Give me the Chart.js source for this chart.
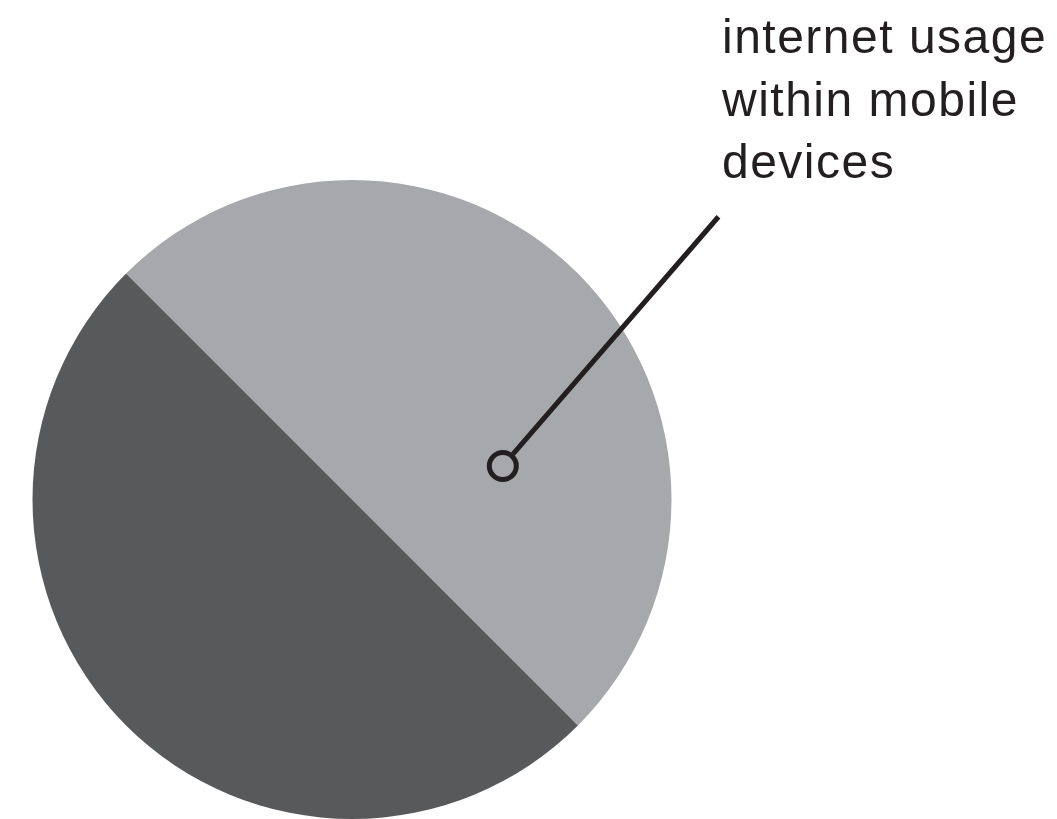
<!DOCTYPE html>
<html>
<head>
<meta charset="utf-8">
<script src="https://cdn.jsdelivr.net/npm/chart.js@4.4.0/dist/chart.umd.min.js"></script>
<style>
  html, body { margin: 0; padding: 0; background: #ffffff; overflow: hidden; }
  #wrap { width: 1057px; height: 819px; }
</style>
</head>
<body>
<div id="wrap"><canvas id="pie-chartcanvas"></canvas></div>
<script>
// data
var categories = ["internet usage within mobile devices", "other"];
var shares = [50, 50];
var sliceColors = ["#a7a8ab", "#58595b"];
var calloutLines = ["internet usage", "within mobile", "devices"];

// callout: leader line from a small ring inside the first slice to the label
var callout = {
  id: "callout",
  afterDatasetsDraw: function(chart) {
    var arc = chart.getDatasetMeta(0).data[0];
    if (!arc) return;
    var r = arc.outerRadius;
    var cx = arc.x, cy = arc.y;
    var ctx = chart.ctx;

    var mx = cx + 0.472 * r, my = cy - 0.105 * r;   // ring
    var ex = cx + 1.147 * r, ey = cy - 0.885 * r;   // line end
    var ringR = 13.5;

    ctx.save();
    ctx.strokeStyle = "#231f20";
    ctx.lineWidth = 5;
    ctx.lineCap = "butt";

    var ang = Math.atan2(ey - my, ex - mx);
    ctx.beginPath();
    ctx.moveTo(mx + Math.cos(ang) * (ringR + 2), my + Math.sin(ang) * (ringR + 2));
    ctx.lineTo(ex, ey);
    ctx.stroke();

    ctx.beginPath();
    ctx.arc(mx, my, ringR, 0, Math.PI * 2);
    ctx.stroke();

    ctx.fillStyle = "#231f20";
    ctx.font = "48px 'Liberation Sans', Arial, sans-serif";
    ctx.textAlign = "left";
    ctx.textBaseline = "alphabetic";
    if ("letterSpacing" in ctx) ctx.letterSpacing = "1.5px";
    var tx = cx + 1.158 * r;
    var ty = 53;
    for (var i = 0; i < calloutLines.length; i++) {
      ctx.fillText(calloutLines[i], tx, ty + i * 62.5);
    }
    ctx.restore();
  }
};

var ctx = document.getElementById("pie-chartcanvas");

var data = {
  labels: categories,
  datasets: [
    {
      data: shares,
      backgroundColor: sliceColors,
      borderWidth: 0,
      hoverOffset: 0
    }
  ]
};

var options = {
  responsive: true,
  maintainAspectRatio: false,
  animation: false,
  rotation: -45,
  layout: {
    padding: { left: 32, top: 180, right: 385, bottom: 0 }
  },
  plugins: {
    legend: { display: false },
    tooltip: { enabled: false },
    title: { display: false }
  }
};

var chart = new Chart(ctx, {
  type: "pie",
  data: data,
  options: options,
  plugins: [callout]
});
</script>
</body>
</html>
